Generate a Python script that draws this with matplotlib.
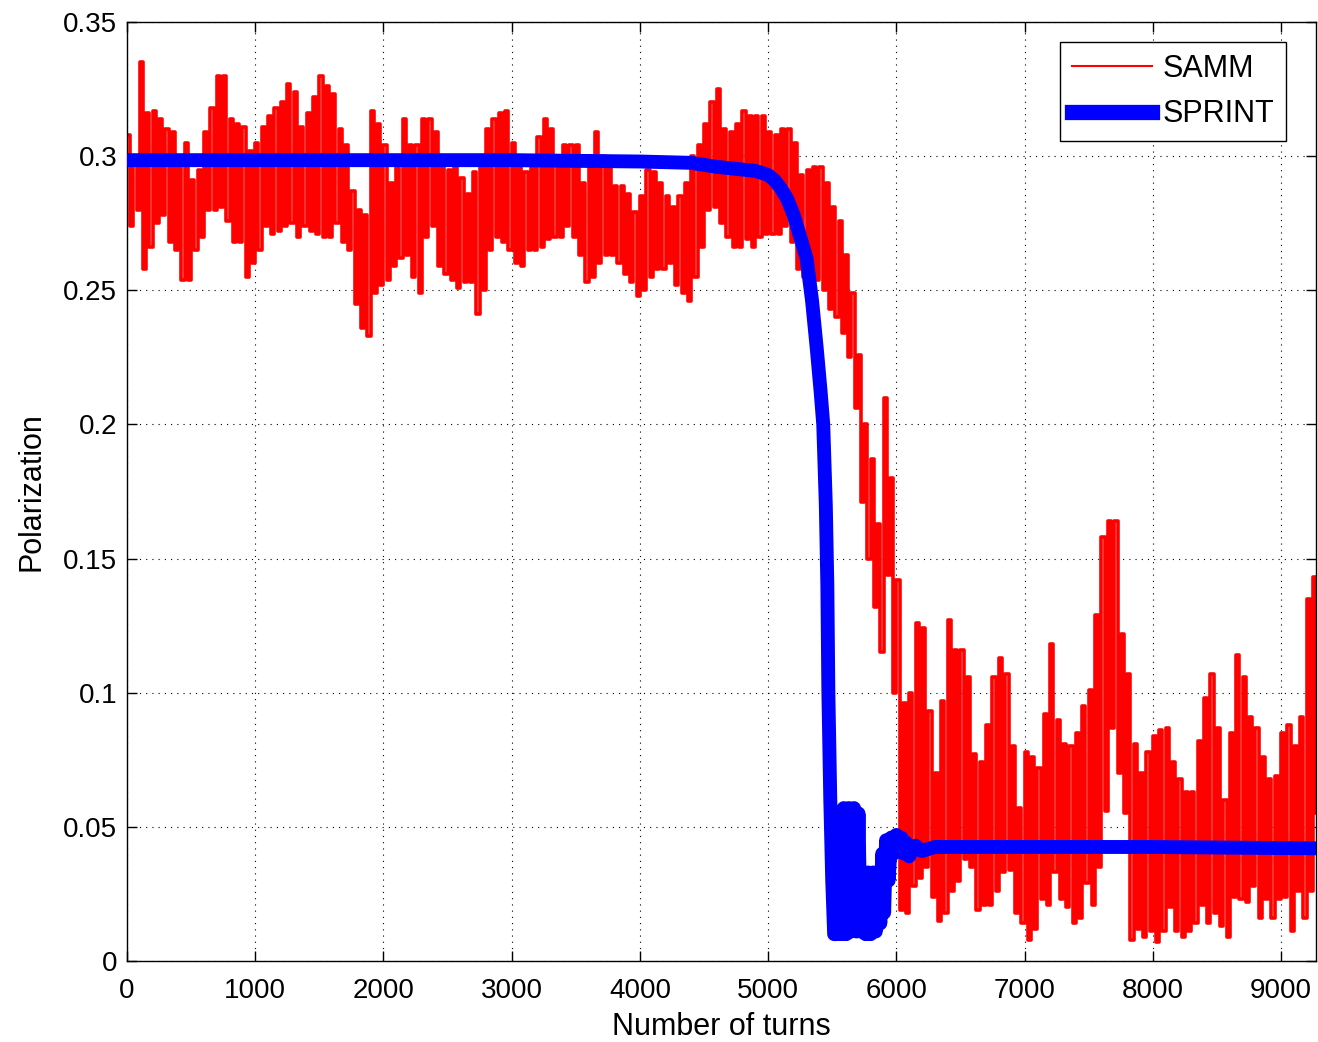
"""Polarization vs number of turns: SAMM (noisy) vs SPRINT (smooth) comparison."""
import numpy as np
import matplotlib
matplotlib.use("Agg")
import matplotlib.pyplot as plt

plt.rcParams["font.family"] = ["Liberation Sans", "DejaVu Sans"]

# SAMM: upper / lower envelope of the fast-oscillating trace, read every 50 turns (0 ... 9250)
samm_step = 50
samm_hi = [
    0.308, 0.300, 0.335, 0.316, 0.317, 0.314, 0.310, 0.309, 0.300, 0.305,
    0.291, 0.295, 0.309, 0.318, 0.330, 0.330, 0.314, 0.312, 0.311, 0.302,
    0.305, 0.311, 0.315, 0.318, 0.320, 0.327, 0.324, 0.311, 0.316, 0.322,
    0.330, 0.326, 0.323, 0.310, 0.304, 0.287, 0.280, 0.278, 0.317, 0.312,
    0.304, 0.290, 0.296, 0.314, 0.304, 0.304, 0.314, 0.314, 0.309, 0.300,
    0.295, 0.296, 0.292, 0.286, 0.294, 0.300, 0.310, 0.314, 0.316, 0.317,
    0.305, 0.296, 0.294, 0.300, 0.307, 0.314, 0.310, 0.299, 0.304, 0.304,
    0.304, 0.290, 0.300, 0.309, 0.300, 0.296, 0.289, 0.289, 0.286, 0.279,
    0.285, 0.295, 0.294, 0.290, 0.285, 0.281, 0.285, 0.290, 0.300, 0.304,
    0.312, 0.320, 0.325, 0.310, 0.309, 0.312, 0.317, 0.315, 0.315, 0.315,
    0.309, 0.308, 0.310, 0.310, 0.305, 0.293, 0.295, 0.296, 0.296, 0.290,
    0.281, 0.276, 0.263, 0.249, 0.226, 0.200, 0.187, 0.163, 0.210, 0.180,
    0.142, 0.096, 0.100, 0.126, 0.124, 0.093, 0.070, 0.097, 0.127, 0.116,
    0.116, 0.106, 0.077, 0.074, 0.088, 0.106, 0.113, 0.107, 0.080, 0.057,
    0.078, 0.076, 0.072, 0.092, 0.118, 0.090, 0.081, 0.080, 0.085, 0.095,
    0.101, 0.129, 0.158, 0.164, 0.164, 0.122, 0.107, 0.081, 0.070, 0.078,
    0.084, 0.086, 0.087, 0.074, 0.068, 0.063, 0.063, 0.082, 0.098, 0.107,
    0.087, 0.060, 0.085, 0.114, 0.106, 0.091, 0.087, 0.076, 0.068, 0.069,
    0.085, 0.088, 0.080, 0.091, 0.135, 0.143,
]
samm_lo = [
    0.274, 0.280, 0.258, 0.266, 0.275, 0.278, 0.268, 0.265, 0.254, 0.254,
    0.265, 0.270, 0.280, 0.280, 0.281, 0.276, 0.268, 0.268, 0.255, 0.260,
    0.265, 0.274, 0.271, 0.272, 0.274, 0.275, 0.270, 0.274, 0.272, 0.271,
    0.270, 0.270, 0.275, 0.268, 0.265, 0.245, 0.236, 0.233, 0.249, 0.252,
    0.254, 0.259, 0.262, 0.263, 0.255, 0.249, 0.270, 0.274, 0.259, 0.256,
    0.254, 0.251, 0.253, 0.253, 0.241, 0.250, 0.265, 0.270, 0.268, 0.265,
    0.260, 0.259, 0.265, 0.265, 0.266, 0.269, 0.270, 0.270, 0.274, 0.270,
    0.263, 0.253, 0.255, 0.260, 0.263, 0.263, 0.260, 0.256, 0.253, 0.248,
    0.250, 0.255, 0.258, 0.258, 0.260, 0.252, 0.249, 0.246, 0.255, 0.266,
    0.280, 0.281, 0.275, 0.270, 0.266, 0.266, 0.269, 0.266, 0.270, 0.271,
    0.271, 0.271, 0.274, 0.268, 0.258, 0.255, 0.254, 0.254, 0.250, 0.243,
    0.240, 0.234, 0.225, 0.206, 0.171, 0.150, 0.132, 0.115, 0.144, 0.100,
    0.019, 0.018, 0.028, 0.031, 0.035, 0.024, 0.015, 0.018, 0.026, 0.030,
    0.038, 0.035, 0.019, 0.021, 0.021, 0.026, 0.033, 0.034, 0.018, 0.014,
    0.008, 0.012, 0.023, 0.021, 0.033, 0.023, 0.020, 0.014, 0.016, 0.029,
    0.021, 0.035, 0.056, 0.087, 0.070, 0.055, 0.008, 0.012, 0.009, 0.011,
    0.007, 0.011, 0.020, 0.011, 0.009, 0.011, 0.014, 0.021, 0.014, 0.018,
    0.013, 0.009, 0.024, 0.023, 0.022, 0.028, 0.016, 0.023, 0.016, 0.023,
    0.024, 0.011, 0.026, 0.016, 0.026, 0.055,
]

# SPRINT: smooth curve, with the short oscillation burst after the drop
sprint_turns = [
    0, 1000, 2000, 3000, 4000, 4400, 4600, 4800, 4900, 5000, 5050, 5100,
    5150, 5200, 5250, 5300, 5343, 5380, 5410, 5430, 5450, 5462, 5470, 5485,
    5500, 5515, 5530, 5550, 5570, 5590, 5610, 5630, 5650, 5670, 5690, 5705,
    5720, 5740, 5760, 5780, 5800, 5820, 5840, 5860, 5875, 5890, 5905, 5920,
    5940, 5960, 5980, 6000, 6020, 6040, 6060, 6080, 6100, 6150, 6200, 6300,
    7000, 8000, 9250,
]
sprint_pol = [
    0.2985, 0.2985, 0.2985, 0.2985, 0.298, 0.2975, 0.296, 0.295, 0.2945, 0.293, 0.291, 0.288,
    0.284, 0.278, 0.270, 0.262, 0.246, 0.228, 0.212, 0.200, 0.170, 0.140, 0.100, 0.060,
    0.030, 0.010, 0.010, 0.030, 0.010, 0.057, 0.010, 0.057, 0.011, 0.057, 0.011, 0.055,
    0.011, 0.033, 0.010, 0.033, 0.010, 0.033, 0.011, 0.030, 0.014, 0.040, 0.018, 0.045,
    0.030, 0.046, 0.040, 0.047, 0.041, 0.046, 0.040, 0.044, 0.039, 0.043, 0.041, 0.0425,
    0.0425, 0.0425, 0.042,
]

x_ticks = [0, 1000, 2000, 3000, 4000, 5000, 6000, 7000, 8000, 9000]
y_ticks = [0, 0.05, 0.1, 0.15, 0.2, 0.25, 0.3, 0.35]
y_labels = ["0", "0.05", "0.1", "0.15", "0.2", "0.25", "0.3", "0.35"]

# interleave peaks and troughs so the SAMM trace reads as a dense band
base = np.arange(len(samm_hi)) * samm_step
samm_t = np.column_stack([base, base + samm_step / 2]).ravel()
samm_p = np.column_stack([samm_hi, samm_lo]).ravel()

W, H = 1318, 1042
fig = plt.figure(figsize=(W / 100, H / 100), dpi=100)
ax = fig.add_axes([127 / W, 81 / H, 1189 / W, 939 / H])

ax.plot(samm_t, samm_p, color="#ff0000", lw=2.6, drawstyle="steps-post",
        label="SAMM", zorder=2)
ax.plot(sprint_turns, sprint_pol, color="#0000ff", lw=10, label="SPRINT",
        solid_joinstyle="round", zorder=3)

ax.set_xlim(0, 9273)
ax.set_ylim(0, 0.35)
ax.set_xticks(x_ticks)
ax.set_yticks(y_ticks)
ax.set_yticklabels(y_labels)
ax.tick_params(direction="in", length=7, width=1, top=True, right=True,
               labelsize=20, pad=7)
ax.tick_params(axis="x", pad=12)
ax.grid(True, color="black", linewidth=0.8, linestyle=(0, (1, 4.6)))
for s in ax.spines.values():
    s.set_linewidth(1)

ax.set_xlabel("Number of turns", fontsize=22, labelpad=6)
ax.set_ylabel("Polarization", fontsize=22, labelpad=12)

leg = ax.legend(loc="upper right", bbox_to_anchor=(0.975, 0.979), borderaxespad=0,
                fontsize=22, handlelength=2.6, handletextpad=0.35, labelspacing=0.5,
                fancybox=False, framealpha=1, edgecolor="black", borderpad=0.4)
leg.get_frame().set_linewidth(1)
leg.get_lines()[0].set_linewidth(1.5)
leg.get_lines()[1].set_linewidth(11)

fig.savefig("out.png", dpi=100)
